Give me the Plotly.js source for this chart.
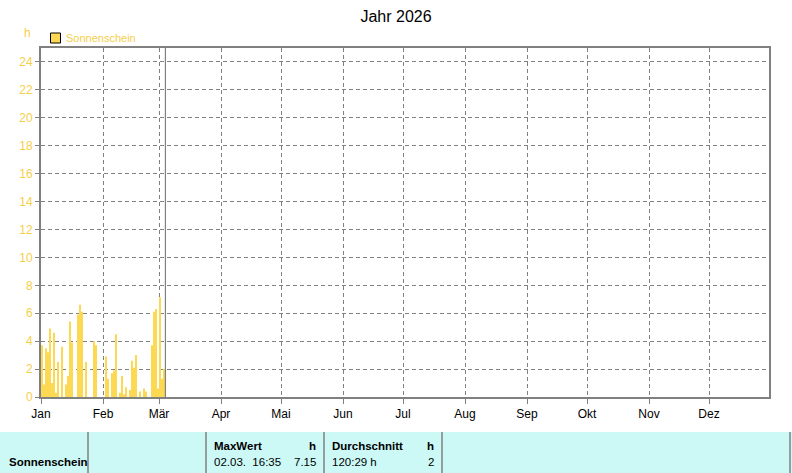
<!DOCTYPE html>
<html>
<head>
<meta charset="utf-8">
<script src="https://cdn.plot.ly/plotly-3.0.1.min.js"></script>
<style>
html,body{margin:0;padding:0;background:#fff;}
#chart{width:792px;height:473px;}
</style>
</head>
<body>
<div id="chart"></div>
<script>
// Daily sunshine duration (h), consecutive days starting at firstDate
var firstDate = '2026-01-02';
var janValues = [3.7,0.9,3.5,3.2,4.9,1.0,4.6,0.3,2.5,0,3.6,0,0.9,1.5,5.4,3.9,0,0,5.9,6.6,6.1,0,2.5,0,0,0,4.0,3.7,0,0];
var febValues = [0,0,2.9,1.3,0,1.7,1.9,4.5,0,0.3,1.5,0.2,0.7,0,0.5,2.6,2.1,3.0,0,0.4,0,0.6,0.4,0,0,3.7,6.1,6.3];
var marValues = [0.6,7.15,1.3,2.0];
var monthTicks = ['2026-01-01','2026-02-01','2026-03-01','2026-04-01','2026-05-01','2026-06-01','2026-07-01','2026-08-01','2026-09-01','2026-10-01','2026-11-01','2026-12-01'];
var monthLabels = ['Jan','Feb','Mär','Apr','Mai','Jun','Jul','Aug','Sep','Okt','Nov','Dez'];
var nowMarker = '2026-03-04 05:00';
var seriesName = 'Sonnenschein';
var unit = 'h';
var maxWertDate = '02.03.\u00A0\u00A016:35';
var maxWertValue = '7.15';
var durchschnittSum = '120:29 h';
var durchschnittValue = '2';

var values = janValues.concat(febValues, marValues);
var dates = [];
var d0 = new Date(firstDate + 'T00:00:00Z');
for (var i = 0; i < values.length; i++) {
  var d = new Date(d0.getTime() + i * 86400000);
  dates.push(d.toISOString().slice(0, 10));
}

var DAY = 86400000;
var yellow = '#F5CF4A';
var barCol = '#FCD853';
var grey = '#808080';
var font = 'Liberation Sans, Arial, sans-serif';

// plot area in pixels
var L = 41, R = 769, T = 48, B = 397;
function px(x){ return (x - L) / (R - L); }
function py(y){ return (B - y) / (B - T); }

var trace = {
  type: 'bar',
  x: dates,
  y: values,
  width: DAY,
  offset: -DAY,
  marker: {color: barCol, line: {width: 0}},
  showlegend: false,
  hoverinfo: 'x+y'
};

var shapes = [
  // now marker
  {type:'line', xref:'x', yref:'paper', x0: nowMarker, x1: nowMarker, y0:0, y1:1, line:{color:grey, width:1.2}},
  // legend square
  {type:'rect', xref:'paper', yref:'paper', x0:px(50.5), x1:px(60.5), y0:py(43), y1:py(33), fillcolor:barCol, line:{color:'#000', width:1}},
  // table background
  {type:'rect', xref:'paper', yref:'paper', x0:px(0), x1:px(792), y0:py(432), y1:py(474), fillcolor:'#CCF9F6', line:{width:0}, layer:'below'}
];
[88, 206, 324, 442, 790].forEach(function(x){
  shapes.push({type:'line', xref:'paper', yref:'paper', x0:px(x), x1:px(x), y0:py(432), y1:py(474), line:{color:grey, width:1.5}});
});

function ann(text, x, y, anchor, opts){
  opts = opts || {};
  return {text:text, xref:'paper', yref:'paper', x:px(x), y:py(y), xanchor:anchor, yanchor:'middle', showarrow:false,
    font:{family:font, size:opts.size||11, color:opts.color||'#000'}};
}

var annotations = [
  ann(unit, 27, 33, 'center', {color:yellow, size:12}),
  ann(seriesName, 64, 38, 'left', {color:yellow, size:11}),
  ann('<b>' + seriesName + '</b>', 7, 462, 'left', {size:11.5}),
  ann('<b>MaxWert</b>', 212, 446, 'left', {size:11.5}),
  ann('<b>' + unit + '</b>', 318, 446, 'right', {size:11.5}),
  ann(maxWertDate, 212, 462, 'left', {size:11.5}),
  ann(maxWertValue, 318, 462, 'right', {size:11.5}),
  ann('<b>Durchschnitt</b>', 330, 446, 'left', {size:11.5}),
  ann('<b>' + unit + '</b>', 436, 446, 'right', {size:11.5}),
  ann(durchschnittSum, 330, 462, 'left', {size:11.5}),
  ann(durchschnittValue, 436, 462, 'right', {size:11.5})
];

var layout = {
  width: 792, height: 473,
  margin: {l: L, r: 792 - R, t: T, b: 473 - B, pad: 0},
  paper_bgcolor: '#fff', plot_bgcolor: '#fff',
  font: {family: font, size: 12, color: '#000'},
  title: {text: 'Jahr 2026', x: 0.5, xref: 'container', xanchor: 'center', y: 1 - 16/473, yanchor: 'middle', font: {family: font, size: 16, color: '#000'}},
  xaxis: {
    type: 'date', range: ['2026-01-01', '2026-12-31'],
    tickvals: monthTicks, ticktext: monthLabels,
    ticks: 'outside', ticklen: 5, tickcolor: grey, tickwidth: 1,
    tickfont: {family: font, size: 12, color: '#000'},
    showgrid: true, gridcolor: grey, gridwidth: 1, griddash: '4px,3px',
    showline: true, linecolor: grey, linewidth: 2, mirror: true,
    zeroline: false, fixedrange: true
  },
  yaxis: {
    range: [0, 25], tickmode: 'linear', tick0: 0, dtick: 2,
    ticks: 'outside', ticklen: 4, tickcolor: grey, tickwidth: 1,
    tickfont: {family: font, size: 12, color: yellow},
    showgrid: true, gridcolor: grey, gridwidth: 1, griddash: '4px,3px',
    showline: true, linecolor: grey, linewidth: 2, mirror: true,
    zeroline: false, fixedrange: true
  },
  shapes: shapes,
  annotations: annotations,
  showlegend: false
};

Plotly.newPlot('chart', [trace], layout, {displayModeBar: false, staticPlot: true});
</script>
</body>
</html>
